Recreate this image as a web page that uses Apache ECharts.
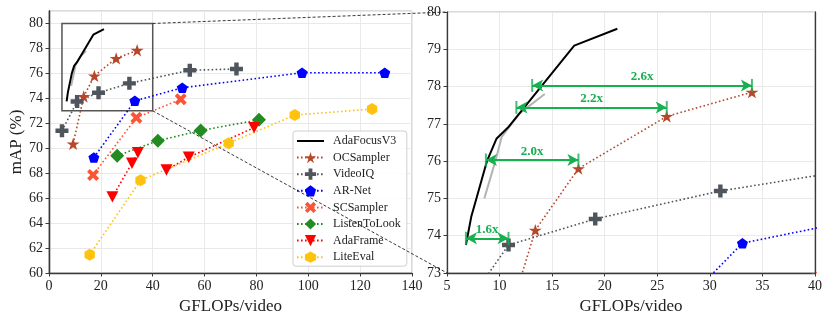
<!DOCTYPE html>
<html style="height: 100%">
<head>
    <meta charset="utf-8">
</head>
<body style="height: 100%; margin: 0; background: #fff">
<div id="main" style="width: 830px; height: 321px;"></div>

<script type="text/javascript" src="https://cdn.jsdelivr.net/npm/echarts@6/dist/echarts.min.js"></script>
<script type="text/javascript">

    // ---- data (GFLOPs/video, mAP %) ----
    const adaFocusX = [6.8, 7.3, 8.3, 8.8, 9.7, 10.8, 17.1, 21.2];
    const adaFocusY = [73.75, 74.5, 75.5, 76.0, 76.6, 76.9, 79.1, 79.55];
    const grayX = [8.55, 9.6, 10.2, 11.9, 14.3];
    const grayY = [75.0, 76.0, 76.65, 77.28, 77.8];
    const ocX = [9.3, 13.4, 17.5, 25.9, 34.0];
    const ocY = [70.35, 74.15, 75.8, 77.2, 77.85];
    const videoIqX = [5.0, 10.85, 19.1, 31.0, 54.3, 72.3];
    const videoIqY = [71.4, 73.75, 74.45, 75.2, 76.25, 76.35];
    const arNetX = [17.3, 33.1, 51.4, 97.6, 129.5];
    const arNetY = [69.25, 73.8, 74.85, 76.05, 76.05];
    const scX = [17.0, 33.7, 50.8];
    const scY = [67.85, 72.45, 73.92];
    const ltlX = [26.3, 42.0, 58.5, 81.0];
    const ltlY = [69.4, 70.6, 71.42, 72.28];
    // AdaFrame is drawn as two separate runs (null breaks the line)
    const adaFrameX = [24.45, 32.0, 34.3, null, 45.3, 53.9, 79.1];
    const adaFrameY = [66.1, 68.8, 69.65, null, 68.26, 69.28, 71.65];
    const liteEvalX = [15.7, 35.3, 69.3, 94.8, 124.6];
    const liteEvalY = [61.46, 67.43, 70.4, 72.66, 73.14];

    // zoom box shown on the left panel
    const boxX = [5, 40];
    const boxY = [73, 80];

    // speed-up arrows on the right panel
    const arrowLabels = ['1.6x', '2.0x', '2.2x', '2.6x'];
    const arrowY = [73.93, 76.03, 77.44, 78.03];
    const arrowFrom = [6.8, 8.7, 11.6, 13.1];
    const arrowTo = [10.85, 17.5, 25.9, 34.0];

    const leftXTicks = { min: 0, max: 140, interval: 20 };
    const leftYTicks = { min: 60, max: 81, interval: 2 };
    const rightXTicks = { min: 5, max: 40, interval: 5 };
    const rightYTicks = { min: 73, max: 80, interval: 1 };

    // marker shapes (matplotlib-like)
    const starPath = 'path://M50,0L61.23,34.55L97.55,34.55L68.17,55.9L79.39,90.45L50,69.1L20.61,90.45L31.83,55.9L2.45,34.55L38.77,34.55Z';
    const plusPath = 'path://M33,0H67V33H100V67H67V100H33V67H0V33H33Z';
    const pentaPath = 'path://M50,0L97.55,34.55L79.39,90.45L20.61,90.45L2.45,34.55Z';
    const xPath = 'path://M74.75,4.04L95.96,25.25L71.21,50L95.96,74.75L74.75,95.96L50,71.21L25.25,95.96L4.04,74.75L28.79,50L4.04,25.25L25.25,4.04L50,28.79Z';
    const diamondPath = 'path://M50,0L100,50L50,100L0,50Z';
    const triDownPath = 'path://M0,0L100,0L50,95Z';
    const hexPath = 'path://M50,0L93.3,25L93.3,75L50,100L6.7,75L6.7,25Z';

    const serif = '"Liberation Serif", "DejaVu Serif", serif';
    const green = '#17b04f';
    const dotted = [1.6, 2.4];

    function pairs(xs, ys) {
        let res = [];
        for (let i = 0; i < xs.length; i++) {
            if (xs[i] === null) {
                res.push([null, null]);
            } else {
                res.push([xs[i], ys[i]]);
            }
        }
        return res;
    }

    const methods = [
        {name: 'OCSampler', x: ocX, y: ocY, color: '#b7472a', symbol: starPath, size: 13},
        {name: 'VideoIQ', x: videoIqX, y: videoIqY, color: '#4f555c', symbol: plusPath, size: 13},
        {name: 'AR-Net', x: arNetX, y: arNetY, color: '#0000ff', symbol: pentaPath, size: 11},
        {name: 'SCSampler', x: scX, y: scY, color: '#fb5535', symbol: xPath, size: 12},
        {name: 'ListenToLook', x: ltlX, y: ltlY, color: '#228b22', symbol: diamondPath, size: 14},
        {name: 'AdaFrame', x: adaFrameX, y: adaFrameY, color: '#ff0000', symbol: triDownPath, size: 12},
        {name: 'LiteEval', x: liteEvalX, y: liteEvalY, color: '#ffc30f', symbol: hexPath, size: 12}
    ];

    function makeSeries(gi) {
        let list = [];
        list.push({
            name: 'gray', type: 'line', xAxisIndex: gi, yAxisIndex: gi * 2,
            data: pairs(grayX, grayY), showSymbol: false, symbol: 'none',
            lineStyle: {color: '#b3b3b3', width: 2}, animation: false, silent: true
        });
        list.push({
            name: 'AdaFocusV3', type: 'line', xAxisIndex: gi, yAxisIndex: gi * 2,
            data: pairs(adaFocusX, adaFocusY), symbol: 'none',
            itemStyle: {color: '#000'},
            lineStyle: {color: '#000', width: 2}, animation: false, silent: true
        });
        methods.forEach(function (m) {
            list.push({
                name: m.name, type: 'line', xAxisIndex: gi, yAxisIndex: gi * 2,
                data: pairs(m.x, m.y),
                connectNulls: false,
                symbol: m.symbol, symbolSize: m.size, symbolKeepAspect: true,
                itemStyle: {color: m.color},
                lineStyle: {color: m.color, width: 1.6, type: dotted},
                animation: false, silent: true
            });
        });
        return list;
    }

    function valueAxis(ticks, gi, extra) {
        return Object.assign({
            type: 'value', gridIndex: gi,
            min: ticks.min, max: ticks.max, interval: ticks.interval,
            axisLine: {show: true, onZero: false, lineStyle: {color: '#3a3a3a', width: 1.3}},
            axisTick: {show: true, inside: false, length: 3.5, lineStyle: {color: '#3a3a3a'}},
            axisLabel: {color: '#222', fontFamily: serif, fontSize: 14, margin: 6, showMaxLabel: true},
            splitLine: {show: true, lineStyle: {color: '#e9e9e9', width: 1}}
        }, extra || {});
    }

    function rightSpine(gi) {
        return {
            type: 'value', gridIndex: gi, position: 'right', min: 0, max: 1,
            axisLine: {show: true, lineStyle: {color: '#3a3a3a', width: 1.3}},
            axisTick: {show: false}, axisLabel: {show: false}, splitLine: {show: false}
        };
    }

    const chart = echarts.init(document.getElementById('main'), null, {renderer: 'canvas'});

    let series = makeSeries(0).concat(makeSeries(1));

    // zoom box on the left panel
    series.push({
        type: 'line', xAxisIndex: 0, yAxisIndex: 0, data: [], silent: true,
        markArea: {
            silent: true,
            itemStyle: {color: 'rgba(0,0,0,0)', borderColor: '#555', borderWidth: 1.5},
            data: [[{coord: [boxX[0], boxY[1]]}, {coord: [boxX[1], boxY[0]]}]]
        }
    });

    // arrows on the right panel
    let arrowLines = [];
    let barPts = [];
    for (let i = 0; i < arrowLabels.length; i++) {
        arrowLines.push([
            {coord: [arrowFrom[i], arrowY[i]], name: arrowLabels[i]},
            {coord: [arrowTo[i], arrowY[i]]}
        ]);
        barPts.push([arrowFrom[i], arrowY[i]]);
        barPts.push([arrowTo[i], arrowY[i]]);
    }
    series.push({
        type: 'scatter', xAxisIndex: 1, yAxisIndex: 2, data: barPts,
        symbol: 'rect', symbolSize: [2, 13], itemStyle: {color: green}, silent: true, z: 5,
        markLine: {
            silent: true, animation: false,
            symbol: ['arrow', 'arrow'], symbolSize: [9, 11],
            lineStyle: {color: green, width: 2, type: 'solid'},
            label: {
                show: true, position: 'insideMiddleTop', distance: 2,
                formatter: '{b}', color: green, fontWeight: 'bold',
                fontFamily: serif, fontSize: 13
            },
            data: arrowLines
        }
    });

    const legendNames = ['OCSampler', 'VideoIQ', 'AR-Net', 'SCSampler', 'ListenToLook', 'AdaFrame', 'LiteEval'];
    let legendData = [{name: 'AdaFocusV3', itemStyle: {opacity: 0}}];
    legendNames.forEach(function (n) { legendData.push({name: n}); });

    chart.setOption({
        backgroundColor: '#fff',
        animation: false,
        grid: [
            {left: 49, right: 418, top: 11, bottom: 48, show: true, borderColor: '#b5b5b5', borderWidth: 1},
            {left: 447, right: 15, top: 12, bottom: 48, show: true, borderColor: '#b5b5b5', borderWidth: 1}
        ],
        xAxis: [
            valueAxis(leftXTicks, 0, {
                name: 'GFLOPs/video', nameLocation: 'middle', nameGap: 12,
                nameTextStyle: {fontFamily: serif, fontSize: 17, color: '#222'}
            }),
            valueAxis(rightXTicks, 1, {
                name: 'GFLOPs/video', nameLocation: 'middle', nameGap: 12,
                nameTextStyle: {fontFamily: serif, fontSize: 17, color: '#222'}
            })
        ],
        yAxis: [
            valueAxis(leftYTicks, 0, {
                name: 'mAP (%)', nameLocation: 'middle', nameGap: 23,
                nameTextStyle: {fontFamily: serif, fontSize: 17, color: '#222'},
                axisLabel: {color: '#222', fontFamily: serif, fontSize: 14, margin: 6, showMaxLabel: false}
            }),
            rightSpine(0),
            valueAxis(rightYTicks, 1),
            rightSpine(1)
        ],
        legend: {
            orient: 'vertical', left: 293, top: 131,
            data: legendData,
            itemWidth: 27, itemHeight: 14, itemGap: 4.6,
            padding: [4, 6, 3, 3],
            backgroundColor: 'rgba(255,255,255,0.85)',
            borderColor: '#cfcfcf', borderWidth: 1, borderRadius: 3,
            textStyle: {fontFamily: serif, fontSize: 12, color: '#222', lineHeight: 12, padding: [0, 0, 0, 4]},
            selectedMode: false
        },
        series: series
    });

    // dashed connectors from the zoom box to the right panel
    const boxTop = chart.convertToPixel({gridIndex: 0}, [boxX[1], boxY[1]]);
    const boxBot = chart.convertToPixel({gridIndex: 0}, [boxX[1], boxY[0]]);
    const zoomTop = chart.convertToPixel({gridIndex: 1}, [rightXTicks.min, rightYTicks.max]);
    const zoomBot = chart.convertToPixel({gridIndex: 1}, [rightXTicks.min, rightYTicks.min]);

    chart.setOption({
        graphic: [
            {
                type: 'line', z: 100, silent: true,
                shape: {x1: boxTop[0], y1: boxTop[1], x2: zoomTop[0], y2: zoomTop[1]},
                style: {stroke: '#222', lineWidth: 0.9, lineDash: [3, 2]}
            },
            {
                type: 'line', z: 100, silent: true,
                shape: {x1: boxBot[0], y1: boxBot[1], x2: zoomBot[0], y2: zoomBot[1]},
                style: {stroke: '#222', lineWidth: 0.9, lineDash: [3, 2]}
            }
        ]
    });

</script>
</body>
</html>
